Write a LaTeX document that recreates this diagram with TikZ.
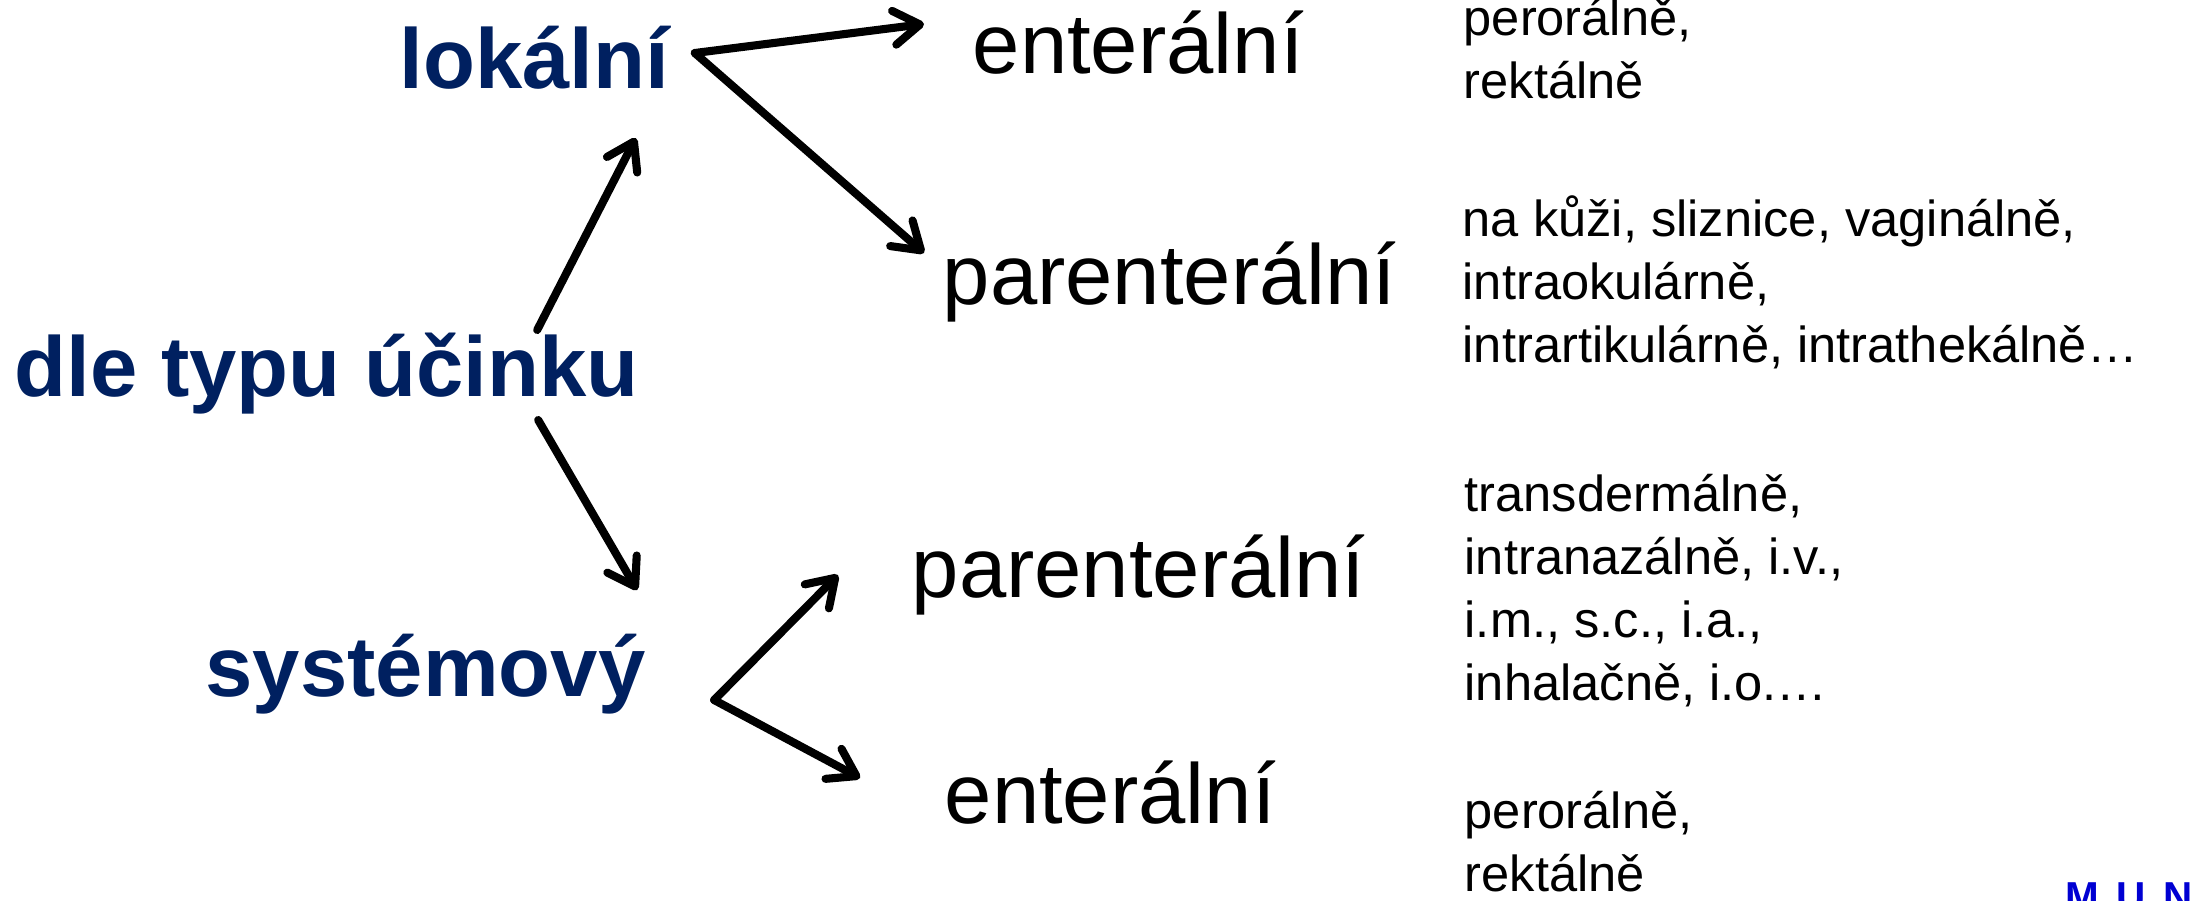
\documentclass[tikz,border=0pt]{standalone}
\usepackage{fontspec}
\setmainfont{Liberation Sans}
\usetikzlibrary{arrows.meta}
\definecolor{navy}{RGB}{0,32,96}
\definecolor{logoblue}{RGB}{0,0,210}
\tikzset{
  head/.style={font=\bfseries\fontsize{24.2pt}{28pt}\selectfont, text=navy, inner sep=0pt, anchor=base west},
  route/.style={font=\fontsize{24.2pt}{28pt}\selectfont, inner sep=0pt, anchor=base west},
  detail/.style={font=\fontsize{14.4pt}{17.9pt}\selectfont, align=left, inner sep=0pt, anchor=base west},
  link/.style={-{Straight Barb[length=2.6mm,width=3.4mm,line cap=round,line join=round]}, line width=2.3pt, line cap=round},
}
\begin{document}
\begin{tikzpicture}
  \useasboundingbox (0,0) rectangle (21.94,-9);
  % left column
  \node[head] (lok) at (3.99,-0.88) {lokální};
  \node[head] (typ) at (0.14,-3.96) {dle typu účinku};
  \node[head] (sys) at (2.05,-6.96) {systémový};
  % middle column
  \node[route] (ent1) at (9.72,-0.73) {enterální};
  \node[route] (par1) at (9.42,-3.04) {parenterální};
  \node[route] (par2) at (9.11,-5.97) {parenterální};
  \node[route] (ent2) at (9.44,-8.23) {enterální};
  % right column (base = last line)
  \node[detail] (d1) at (14.63,-0.98) {perorálně,\\rektálně};
  \node[detail] (d2) at (14.62,-3.62) {na kůži, sliznice, vaginálně,\\intraokulárně,\\intrartikulárně, intrathekálně…};
  \node[detail] (d3) at (14.64,-7.00) {transdermálně,\\intranazálně, i.v.,\\i.m., s.c., i.a.,\\inhalačně, i.o.…};
  \node[detail] (d4) at (14.64,-8.91) {perorálně,\\rektálně};
  \node[font=\bfseries\fontsize{11.5pt}{12pt}\selectfont, text=logoblue, inner sep=0pt, anchor=base west] (logo) at (20.65,-9.10) {M\hspace{5pt}U\hspace{5pt}N\hspace{5pt}I};
  % arrows
  \draw[link] ([shift={(-1.02,0.66)}]typ.base east) -- ([shift={(-0.34,-0.50)}]lok.base east);
  \draw[link] ([shift={(-1.01,-0.24)}]typ.base east) -- ([shift={(-0.09,1.06)}]sys.base east);
  \draw[link] ([shift={(0.25,0.35)}]lok.base east) -- ([shift={(-0.48,0.49)}]ent1.base west);
  \draw[link] ([shift={(0.25,0.35)}]lok.base east) -- ([shift={(-0.18,0.51)}]par1.base west);
  \draw[link] ([shift={(0.68,-0.04)}]sys.base east) -- ([shift={(-0.73,0.22)}]par2.base west);
  \draw[link] ([shift={(0.68,-0.04)}]sys.base east) -- ([shift={(-0.84,0.45)}]ent2.base west);
\end{tikzpicture}
\end{document}
